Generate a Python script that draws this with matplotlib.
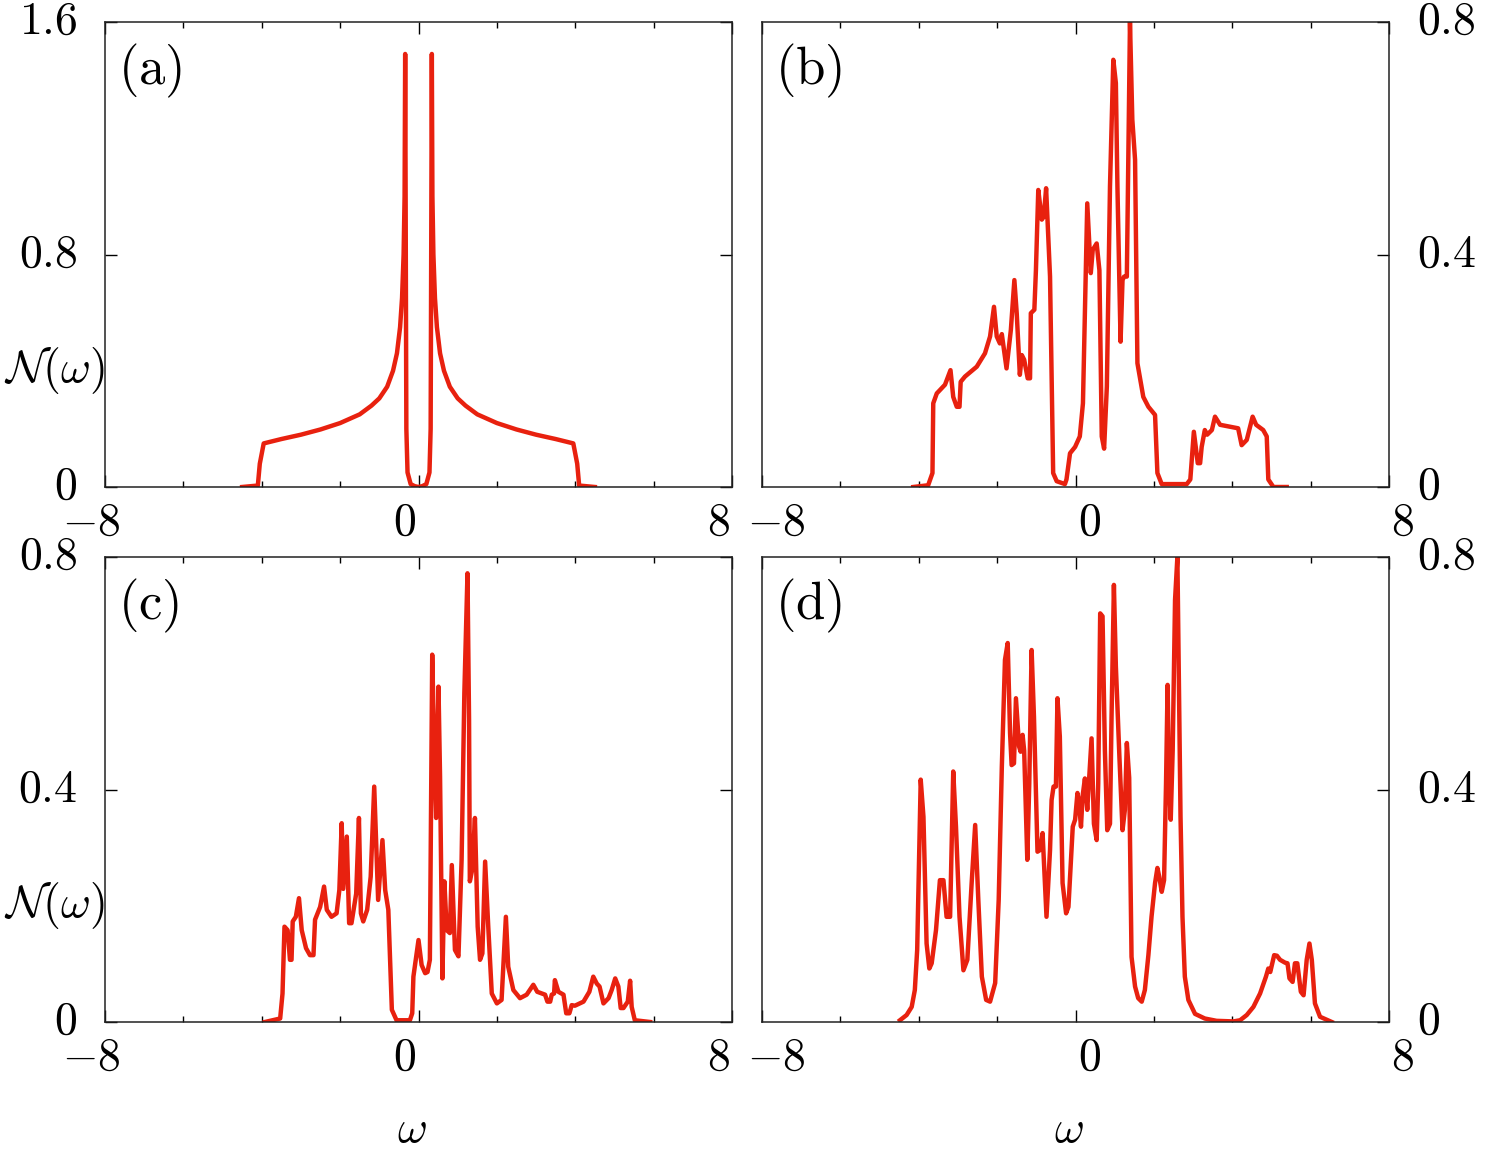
import numpy as np
import matplotlib
matplotlib.use("Agg")
import matplotlib.pyplot as plt
import matplotlib.transforms as mtransforms

plt.rcParams['mathtext.fontset'] = 'cm'
plt.rcParams['font.family'] = 'serif'
plt.rcParams['font.serif'] = ['DejaVu Serif']

# ---- data ----
w_a = [-4.5, -4.1, -4.05, -3.95, -3.5, -3.0, -2.5, -2.0, -1.5, -1.2, -1.0, -0.8, -0.65,
       -0.55, -0.47, -0.42, -0.38, -0.355, -0.34, -0.31, -0.28, -0.2, -0.1, 0.0,
       0.1, 0.2, 0.28, 0.31, 0.34, 0.355, 0.38, 0.42, 0.47, 0.55, 0.65, 0.8, 1.0,
       1.2, 1.5, 2.0, 2.5, 3.0, 3.5, 3.95, 4.05, 4.1, 4.5]
n_a = [0.0, 0.005, 0.08, 0.15, 0.165, 0.18, 0.198, 0.22, 0.25, 0.28, 0.305, 0.345, 0.40,
       0.46, 0.55, 0.65, 0.80, 1.0, 1.49, 0.2, 0.05, 0.01, 0.003, 0.0,
       0.003, 0.01, 0.05, 0.2, 1.49, 1.0, 0.80, 0.65, 0.55, 0.46, 0.40, 0.345, 0.305,
       0.28, 0.25, 0.22, 0.198, 0.18, 0.165, 0.15, 0.08, 0.005, 0.0]

w_b = [-4.14, -3.76, -3.65, -3.63, -3.54, -3.33, -3.19, -3.12, -3.03, -2.96, -2.93, -2.82,
       -2.52, -2.31, -2.18, -2.08, -2.01, -1.93, -1.88, -1.76, -1.65, -1.56, -1.50, -1.42,
       -1.37, -1.31, -1.22, -1.16, -1.14, -1.05, -1.01, -0.95, -0.86, -0.81, -0.75, -0.65,
       -0.57, -0.48, -0.27, -0.23, -0.14, -0.01, 0.11, 0.19, 0.30, 0.39, 0.44, 0.54, 0.61,
       0.67, 0.73, 0.80, 0.88, 0.965, 1.03, 1.07, 1.15, 1.20, 1.24, 1.31, 1.36, 1.39, 1.45,
       1.52, 1.58, 1.73, 1.86, 2.03, 2.09, 2.20, 2.84, 2.93, 3.02, 3.12, 3.18, 3.22, 3.30,
       3.36, 3.48, 3.56, 3.69, 4.15, 4.24, 4.37, 4.52, 4.61, 4.79, 4.88, 4.92, 5.05, 5.39]
n_b = [0.0, 0.003, 0.024, 0.144, 0.161, 0.176, 0.201, 0.155, 0.138, 0.138, 0.181, 0.19,
       0.207, 0.230, 0.259, 0.310, 0.259, 0.247, 0.263, 0.204, 0.27, 0.356, 0.299, 0.193,
       0.227, 0.219, 0.187, 0.187, 0.299, 0.305, 0.373, 0.511, 0.46, 0.465, 0.514, 0.362,
       0.024, 0.01, 0.005, 0.013, 0.058, 0.069, 0.087, 0.144, 0.488, 0.368, 0.408, 0.419, 0.373,
       0.087, 0.066, 0.173, 0.517, 0.735, 0.695, 0.517, 0.25, 0.356, 0.362, 0.362, 0.632, 0.80, 0.632,
       0.563, 0.213, 0.155, 0.138, 0.124, 0.024, 0.005, 0.005, 0.013, 0.095, 0.041, 0.041, 0.069, 0.098,
       0.09, 0.098, 0.121, 0.107, 0.101, 0.072, 0.081, 0.121, 0.107, 0.098, 0.087, 0.013, 0.0, 0.0]

w_c = [-3.92, -3.53, -3.47, -3.42, -3.34, -3.28, -3.24, -3.21, -3.13, -3.05, -2.98, -2.87,
       -2.77, -2.68, -2.64, -2.51, -2.41, -2.34, -2.22, -2.09, -2.02, -1.96, -1.92, -1.83,
       -1.77, -1.71, -1.59, -1.52, -1.47, -1.41, -1.31, -1.22, -1.13, -1.03, -0.92, -0.85,
       -0.77, -0.68, -0.56, -0.22, -0.16, -0.13, 0.0, 0.08, 0.17, 0.23, 0.29, 0.31, 0.35,
       0.42, 0.45, 0.51, 0.55, 0.61, 0.66, 0.72, 0.80, 0.85, 0.93, 1.02, 1.10, 1.17, 1.25,
       1.29, 1.31, 1.37, 1.44, 1.51, 1.57, 1.63, 1.70, 1.78, 1.87, 2.0, 2.12, 2.23, 2.29,
       2.42, 2.59, 2.76, 2.93, 3.03, 3.23, 3.29, 3.36, 3.40, 3.46, 3.48, 3.57, 3.70, 3.77,
       3.85, 3.91, 3.99, 4.21, 4.36, 4.46, 4.55, 4.62, 4.72, 4.85, 4.93, 5.02, 5.10, 5.16,
       5.23, 5.34, 5.40, 5.44, 5.52, 5.91]
n_c = [0.0, 0.006, 0.049, 0.164, 0.158, 0.107, 0.107, 0.173, 0.181, 0.213, 0.158, 0.127,
       0.115, 0.115, 0.176, 0.198, 0.233, 0.193, 0.181, 0.187, 0.227, 0.342, 0.229, 0.319,
       0.17, 0.17, 0.221, 0.351, 0.187, 0.173, 0.193, 0.25, 0.405, 0.21, 0.313, 0.227,
       0.193, 0.021, 0.003, 0.003, 0.015, 0.078, 0.141, 0.098, 0.084, 0.086, 0.107, 0.279, 0.632,
       0.417, 0.351, 0.577, 0.422, 0.075, 0.242, 0.158, 0.153, 0.27, 0.124, 0.113, 0.279, 0.566, 0.772,
       0.52, 0.242, 0.262, 0.351, 0.164, 0.107, 0.118, 0.276, 0.164, 0.049, 0.032, 0.038, 0.181, 0.095,
       0.055, 0.041, 0.047, 0.064, 0.052, 0.047, 0.035, 0.035, 0.047, 0.049, 0.072, 0.052, 0.047, 0.015,
       0.015, 0.029, 0.028, 0.035, 0.052, 0.078, 0.066, 0.061, 0.032, 0.041, 0.055, 0.075, 0.061, 0.024,
       0.024, 0.035, 0.071, 0.026, 0.003, 0.0]

w_d = [-4.48, -4.31, -4.18, -4.10, -4.04, -3.95, -3.88, -3.80, -3.73, -3.67, -3.56, -3.46,
       -3.37, -3.29, -3.20, -3.12, -3.05, -2.96, -2.86, -2.76, -2.65, -2.56, -2.48, -2.39,
       -2.28, -2.18, -2.05, -1.96, -1.88, -1.80, -1.73, -1.67, -1.63, -1.57, -1.52, -1.44,
       -1.40, -1.35, -1.31, -1.23, -1.18, -1.12, -1.06, -0.97, -0.90, -0.84, -0.74, -0.65,
       -0.61, -0.56, -0.50, -0.46, -0.40, -0.33, -0.24, -0.18, -0.07, -0.01, 0.05, 0.09,
       0.14, 0.18, 0.24, 0.30, 0.35, 0.41, 0.47, 0.54, 0.58, 0.63, 0.69, 0.75, 0.81, 0.88,
       0.92, 0.98, 1.03, 1.12, 1.20, 1.26, 1.31, 1.37, 1.43, 1.52, 1.60, 1.69, 1.77, 1.86,
       1.94, 2.03, 2.09, 2.14, 2.20, 2.26, 2.31, 2.35, 2.39, 2.43, 2.48, 2.54, 2.60, 2.64,
       2.68, 2.73, 2.79, 2.88, 3.05, 3.30, 3.60, 4.03, 4.20, 4.37, 4.54, 4.71, 4.86, 4.92,
       4.97, 5.07, 5.14, 5.22, 5.35, 5.41, 5.46, 5.54, 5.60, 5.66, 5.75, 5.82, 5.90, 5.97,
       6.03, 6.11, 6.24, 6.54]
n_d = [0.003, 0.012, 0.026, 0.055, 0.124, 0.417, 0.353, 0.135, 0.092, 0.101, 0.158, 0.244,
       0.244, 0.181, 0.181, 0.431, 0.336, 0.181, 0.089, 0.107, 0.239, 0.339, 0.21, 0.078,
       0.038, 0.035, 0.067, 0.21, 0.439, 0.623, 0.652, 0.497, 0.442, 0.445, 0.557, 0.474,
       0.465, 0.494, 0.467, 0.279, 0.41, 0.64, 0.525, 0.293, 0.296, 0.325, 0.181, 0.296,
       0.382, 0.405, 0.405, 0.557, 0.491, 0.239, 0.187, 0.198, 0.336, 0.348, 0.394, 0.376,
       0.336, 0.388, 0.419, 0.365, 0.42, 0.488, 0.341, 0.313, 0.41, 0.703, 0.698, 0.467, 0.33, 0.341,
       0.525, 0.752, 0.612, 0.457, 0.33, 0.365, 0.48, 0.42, 0.112, 0.061, 0.041, 0.035, 0.055, 0.115,
       0.181, 0.239, 0.265, 0.249, 0.224, 0.244, 0.41, 0.58, 0.41, 0.348, 0.467, 0.726, 0.80, 0.583,
       0.353, 0.181, 0.078, 0.038, 0.014, 0.006, 0.002, 0.001, 0.003, 0.012, 0.026, 0.049, 0.078, 0.092,
       0.086, 0.115, 0.114, 0.107, 0.102, 0.101, 0.075, 0.069, 0.101, 0.101, 0.052, 0.046, 0.107, 0.135,
       0.107, 0.032, 0.009, 0.0]

labels = ['a', 'b', 'c', 'd']
ymaxs = [1.6, 0.8, 0.8, 0.8]
series = [(w_a, n_a), (w_b, n_b), (w_c, n_c), (w_d, n_d)]

W, H = 1494, 1162
fig = plt.figure(figsize=(W / 100, H / 100), dpi=100)

boxes = [(105, 22, 732, 487), (762, 22, 1389, 487),
         (105, 557, 732, 1022), (762, 557, 1389, 1022)]

red = '#e8210f'
fs = 33

for i, (x0, y0, x1, y1) in enumerate(boxes):
    ax = fig.add_axes([x0 / W, 1 - y1 / H, (x1 - x0) / W, (y1 - y0) / H])
    w, n = series[i]
    ax.plot(w, n, color=red, lw=3.2, solid_joinstyle='round')
    ax.set_xlim(-8, 8)
    ax.set_ylim(0, ymaxs[i])
    ax.set_xticks([-8, 0, 8])
    ax.set_xticklabels([r'$-8$', r'$0$', r'$8$'])
    ax.set_xticks(np.arange(-8, 9, 2), minor=True)
    ax.set_yticks([0, ymaxs[i] / 2, ymaxs[i]])
    ax.set_yticklabels([r'$0$', r'$%g$' % (ymaxs[i] / 2), r'$%g$' % ymaxs[i]])
    right = i % 2 == 1
    ax.tick_params(axis='x', which='both', direction='in', top=True, bottom=True,
                   labelsize=fs, pad=9)
    ax.tick_params(axis='x', which='major', length=8.6, width=1.0)
    ax.tick_params(axis='x', which='minor', length=4.3, width=1.0)
    ax.tick_params(axis='y', direction='in', length=8.6, width=1.0, labelsize=fs, pad=20,
                   left=not right, right=True, labelleft=not right, labelright=right)
    for s in ax.spines.values():
        s.set_linewidth(1.1)
        s.set_color('#222222')
    dx = 10 / 72 * (1 if right else -1)
    off = mtransforms.ScaledTranslation(dx, 0, fig.dpi_scale_trans)
    for lbl in ax.get_xticklabels():
        lbl.set_transform(lbl.get_transform() + off)
    up = mtransforms.ScaledTranslation(0, 4 / 72, fig.dpi_scale_trans)
    for lbl in ax.get_yticklabels():
        lbl.set_transform(lbl.get_transform() + up)
    ax.text(0.021, 0.895, r'$(\mathrm{%s})$' % labels[i], transform=ax.transAxes,
            fontsize=38, ha='left', va='center')
    if not right:
        ax.text(0.0, 0.25, r'$\mathcal{N}(\omega)$', transform=ax.transAxes, fontsize=fs,
                ha='right', va='center')
    if i >= 2:
        ax.text(0.49, -0.23, r'$\omega$', transform=ax.transAxes, fontsize=fs,
                ha='center', va='center')

fig.savefig('out.png', dpi=100)
